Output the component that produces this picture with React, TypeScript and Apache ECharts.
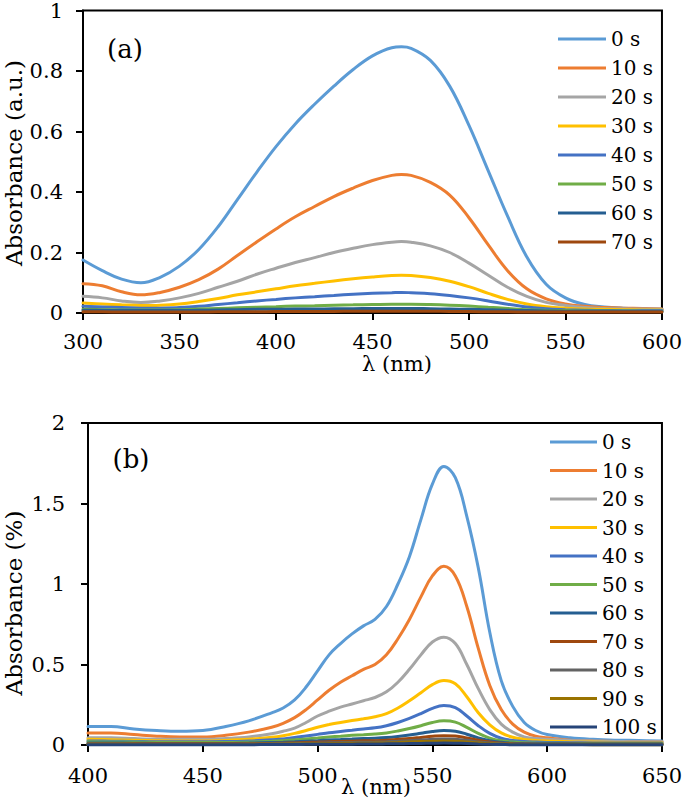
import React, { useEffect, useRef } from "react";
import * as echarts from "echarts";

const FONT = "DejaVu Serif";

// ---------- Panel (a) ----------
const waveA = [300, 310, 320, 330, 340, 350, 360, 370, 380, 390, 400, 410, 420, 430, 440, 450, 460, 465, 470, 480, 490, 500, 510, 520, 530, 540, 550, 560, 570, 580, 590, 600];
const namesA = ["0 s", "10 s", "20 s", "30 s", "40 s", "50 s", "60 s", "70 s"];
const a0 = [0.175, 0.14, 0.112, 0.1, 0.118, 0.155, 0.21, 0.285, 0.375, 0.465, 0.55, 0.625, 0.69, 0.75, 0.805, 0.85, 0.877, 0.88, 0.875, 0.835, 0.75, 0.62, 0.47, 0.32, 0.185, 0.095, 0.05, 0.028, 0.02, 0.016, 0.014, 0.012];
const a10 = [0.097, 0.09, 0.07, 0.06, 0.068, 0.085, 0.11, 0.145, 0.19, 0.235, 0.278, 0.318, 0.352, 0.385, 0.413, 0.438, 0.455, 0.458, 0.455, 0.432, 0.39, 0.315, 0.225, 0.14, 0.08, 0.047, 0.03, 0.022, 0.018, 0.016, 0.015, 0.013];
const a20 = [0.055, 0.05, 0.04, 0.035, 0.04, 0.05, 0.065, 0.085, 0.105, 0.128, 0.148, 0.167, 0.183, 0.2, 0.214, 0.226, 0.234, 0.236, 0.234, 0.222, 0.2, 0.165, 0.125, 0.085, 0.055, 0.035, 0.025, 0.018, 0.015, 0.014, 0.013, 0.012];
const a30 = [0.033, 0.03, 0.027, 0.025, 0.026, 0.03, 0.038, 0.048, 0.06, 0.07, 0.08, 0.09, 0.098, 0.106, 0.113, 0.119, 0.124, 0.125, 0.124, 0.117, 0.105, 0.087, 0.065, 0.045, 0.03, 0.021, 0.016, 0.013, 0.012, 0.011, 0.01, 0.01];
const a40 = [0.022, 0.02, 0.018, 0.016, 0.016, 0.018, 0.022, 0.028, 0.034, 0.04, 0.045, 0.05, 0.054, 0.058, 0.062, 0.065, 0.067, 0.068, 0.067, 0.064, 0.058, 0.05, 0.04, 0.029, 0.02, 0.014, 0.011, 0.009, 0.008, 0.008, 0.008, 0.008];
const a50 = [0.012, 0.011, 0.01, 0.01, 0.01, 0.011, 0.013, 0.015, 0.017, 0.019, 0.021, 0.023, 0.024, 0.026, 0.027, 0.028, 0.029, 0.029, 0.029, 0.028, 0.026, 0.023, 0.019, 0.015, 0.011, 0.009, 0.008, 0.007, 0.007, 0.007, 0.006, 0.006];
const a60 = [0.009, 0.009, 0.008, 0.008, 0.008, 0.008, 0.009, 0.01, 0.011, 0.012, 0.012, 0.013, 0.013, 0.014, 0.014, 0.015, 0.015, 0.015, 0.015, 0.014, 0.013, 0.012, 0.011, 0.009, 0.008, 0.007, 0.006, 0.006, 0.006, 0.005, 0.005, 0.005];
const a70 = [0.004, 0.004, 0.003, 0.003, 0.003, 0.003, 0.003, 0.004, 0.004, 0.004, 0.005, 0.005, 0.005, 0.005, 0.006, 0.006, 0.006, 0.006, 0.006, 0.006, 0.005, 0.005, 0.004, 0.004, 0.003, 0.003, 0.003, 0.003, 0.003, 0.003, 0.003, 0.003];
const valuesA = [a0, a10, a20, a30, a40, a50, a60, a70];

// ---------- Panel (b) ----------
const waveB = [400, 410, 420, 430, 440, 450, 460, 470, 480, 485, 490, 495, 500, 505, 510, 515, 520, 525, 530, 535, 540, 545, 550, 555, 560, 565, 570, 575, 580, 585, 590, 595, 600, 610, 620, 630, 640, 650];
const namesB = ["0 s", "10 s", "20 s", "30 s", "40 s", "50 s", "60 s", "70 s", "80 s", "90 s", "100 s"];
const b0 = [0.115, 0.115, 0.1, 0.09, 0.085, 0.09, 0.115, 0.15, 0.2, 0.23, 0.28, 0.36, 0.46, 0.56, 0.63, 0.69, 0.74, 0.78, 0.86, 1.0, 1.17, 1.4, 1.62, 1.73, 1.66, 1.42, 1.1, 0.7, 0.4, 0.24, 0.14, 0.09, 0.065, 0.045, 0.035, 0.03, 0.028, 0.025];
const b10 = [0.075, 0.075, 0.065, 0.055, 0.05, 0.05, 0.06, 0.08, 0.11, 0.135, 0.17, 0.22, 0.28, 0.34, 0.39, 0.43, 0.47, 0.5, 0.56, 0.66, 0.78, 0.92, 1.05, 1.11, 1.05, 0.86, 0.6, 0.37, 0.22, 0.13, 0.08, 0.055, 0.045, 0.03, 0.025, 0.022, 0.02, 0.02];
const b20 = [0.045, 0.045, 0.04, 0.035, 0.035, 0.035, 0.04, 0.05, 0.07, 0.085, 0.105, 0.14, 0.18, 0.21, 0.235, 0.255, 0.275, 0.295, 0.33, 0.39, 0.47, 0.56, 0.64, 0.67, 0.63, 0.5, 0.35, 0.22, 0.13, 0.08, 0.05, 0.04, 0.035, 0.028, 0.025, 0.022, 0.02, 0.02];
const b30 = [0.035, 0.033, 0.03, 0.027, 0.025, 0.025, 0.028, 0.035, 0.048, 0.058, 0.072, 0.09, 0.11, 0.127, 0.14, 0.152, 0.163, 0.175, 0.195, 0.23, 0.275, 0.325, 0.375, 0.4, 0.38, 0.3, 0.2, 0.125, 0.075, 0.048, 0.035, 0.028, 0.025, 0.02, 0.018, 0.016, 0.015, 0.015];
const b40 = [0.025, 0.024, 0.022, 0.02, 0.02, 0.02, 0.021, 0.025, 0.032, 0.038, 0.046, 0.056, 0.066, 0.076, 0.084, 0.092, 0.1, 0.107, 0.12, 0.14, 0.165, 0.195, 0.228, 0.245, 0.232, 0.18, 0.12, 0.072, 0.042, 0.028, 0.021, 0.018, 0.016, 0.014, 0.013, 0.012, 0.012, 0.012];
const b50 = [0.02, 0.019, 0.018, 0.016, 0.015, 0.015, 0.015, 0.018, 0.023, 0.027, 0.032, 0.038, 0.044, 0.05, 0.055, 0.06, 0.064, 0.068, 0.075, 0.087, 0.102, 0.12, 0.14, 0.15, 0.142, 0.11, 0.072, 0.043, 0.026, 0.018, 0.014, 0.012, 0.011, 0.01, 0.01, 0.01, 0.01, 0.01];
const b60 = [0.012, 0.012, 0.011, 0.01, 0.01, 0.01, 0.01, 0.012, 0.015, 0.017, 0.02, 0.024, 0.027, 0.031, 0.034, 0.037, 0.04, 0.042, 0.046, 0.053, 0.062, 0.073, 0.084, 0.09, 0.086, 0.067, 0.044, 0.027, 0.017, 0.011, 0.009, 0.008, 0.007, 0.007, 0.006, 0.006, 0.006, 0.006];
const b70 = [0.008, 0.008, 0.007, 0.007, 0.007, 0.007, 0.007, 0.008, 0.01, 0.011, 0.013, 0.016, 0.018, 0.02, 0.022, 0.024, 0.026, 0.027, 0.03, 0.035, 0.04, 0.047, 0.054, 0.058, 0.056, 0.044, 0.029, 0.018, 0.011, 0.008, 0.006, 0.005, 0.005, 0.005, 0.004, 0.004, 0.004, 0.004];
const b80 = [0.006, 0.006, 0.005, 0.005, 0.005, 0.005, 0.005, 0.006, 0.007, 0.008, 0.009, 0.011, 0.012, 0.014, 0.015, 0.016, 0.017, 0.018, 0.02, 0.023, 0.027, 0.031, 0.035, 0.038, 0.036, 0.029, 0.019, 0.012, 0.008, 0.006, 0.005, 0.004, 0.004, 0.004, 0.003, 0.003, 0.003, 0.003];
const b90 = [0.004, 0.004, 0.004, 0.003, 0.003, 0.003, 0.003, 0.004, 0.005, 0.005, 0.006, 0.007, 0.008, 0.009, 0.01, 0.011, 0.011, 0.012, 0.013, 0.015, 0.018, 0.021, 0.023, 0.025, 0.024, 0.019, 0.013, 0.008, 0.005, 0.004, 0.003, 0.003, 0.003, 0.003, 0.002, 0.002, 0.002, 0.002];
const b100 = [0.002, 0.002, 0.002, 0.002, 0.002, 0.002, 0.002, 0.002, 0.003, 0.003, 0.003, 0.004, 0.004, 0.005, 0.005, 0.005, 0.006, 0.006, 0.007, 0.008, 0.009, 0.01, 0.011, 0.012, 0.011, 0.009, 0.006, 0.004, 0.003, 0.002, 0.002, 0.002, 0.002, 0.002, 0.002, 0.002, 0.002, 0.002];
const valuesB = [b0, b10, b20, b30, b40, b50, b60, b70, b80, b90, b100];

const colors = ["#5B9BD5", "#ED7D31", "#A5A5A5", "#FFC000", "#4472C4", "#70AD47", "#255E91", "#9E480E", "#636363", "#997300", "#264478"];

function axisCommon(labelMargin: number) {
  return {
    axisLine: { show: true, onZero: false, lineStyle: { color: "#000", width: 2 } },
    axisTick: { show: true, inside: false, length: 7, lineStyle: { color: "#000", width: 2 } },
    axisLabel: { color: "#000", fontSize: 21, fontFamily: FONT, margin: labelMargin },
    splitLine: { show: false },
  };
}

function makeSeries(names: string[], values: number[][], waves: number[], idx: number) {
  return names.map((n, i) => ({
    name: n,
    type: "line",
    xAxisIndex: idx,
    yAxisIndex: idx,
    smooth: 0.4,
    symbol: "none",
    clip: false,
    lineStyle: { width: 3, color: colors[i], cap: "round" },
    itemStyle: { color: colors[i] },
    data: waves.map((w, k) => [w, values[i][k]]),
  }));
}

function text(t: string, x: number, y: number, size: number, rotation = 0) {
  return {
    type: "text",
    x,
    y,
    rotation,
    style: {
      text: t,
      fill: "#000",
      fontSize: size,
      fontFamily: FONT,
      textAlign: "center",
      textVerticalAlign: "middle",
    },
  };
}

export default function App() {
  const ref = useRef<HTMLDivElement>(null);
  useEffect(() => {
    if (!ref.current) return;
    const chart = echarts.init(ref.current, undefined, { renderer: "svg" });
    const legendCommon = {
      orient: "vertical",
      icon: "rect",
      itemHeight: 3,
      textStyle: { color: "#000", fontSize: 20, fontFamily: FONT, lineHeight: 20 },
      padding: 0,
      selectedMode: false,
    };
    chart.setOption({
      animation: false,
      backgroundColor: "#fff",
      textStyle: { fontFamily: FONT },
      grid: [
        { left: 83, top: 10, width: 580, height: 303, show: true, borderColor: "#000", borderWidth: 2 },
        { left: 88, top: 423, width: 578, height: 322, show: true, borderColor: "#000", borderWidth: 2 },
      ],
      xAxis: [
        { type: "value", gridIndex: 0, min: 300, max: 600, interval: 50, ...axisCommon(18) },
        { type: "value", gridIndex: 1, min: 400, max: 650, interval: 50, ...axisCommon(20) },
      ],
      yAxis: [
        { type: "value", gridIndex: 0, min: 0, max: 1, interval: 0.2, ...axisCommon(20) },
        { type: "value", gridIndex: 1, min: 0, max: 2, interval: 0.5, ...axisCommon(23) },
      ],
      legend: [
        { ...legendCommon, data: namesA, left: 558, top: 29, itemWidth: 48, itemGap: 9 },
        { ...legendCommon, data: namesB, left: 550, top: 432, itemWidth: 47, itemGap: 8.5 },
      ],
      graphic: [
        text("(a)", 125, 49, 26),
        text("(b)", 131, 459, 26),
        text("λ (nm)", 397, 364, 21),
        text("λ (nm)", 376, 787, 21),
        text("Absorbance (a.u.)", 14, 163, 23, Math.PI / 2),
        text("Absorbance (%)", 14, 603, 23, Math.PI / 2),
      ],
      series: [...makeSeries(namesA, valuesA, waveA, 0), ...makeSeries(namesB, valuesB, waveB, 1)],
    });
    return () => chart.dispose();
  }, []);
  return <div ref={ref} style={{ position: "fixed", left: 0, top: 0, width: 685, height: 802, background: "#fff" }} />;
}
